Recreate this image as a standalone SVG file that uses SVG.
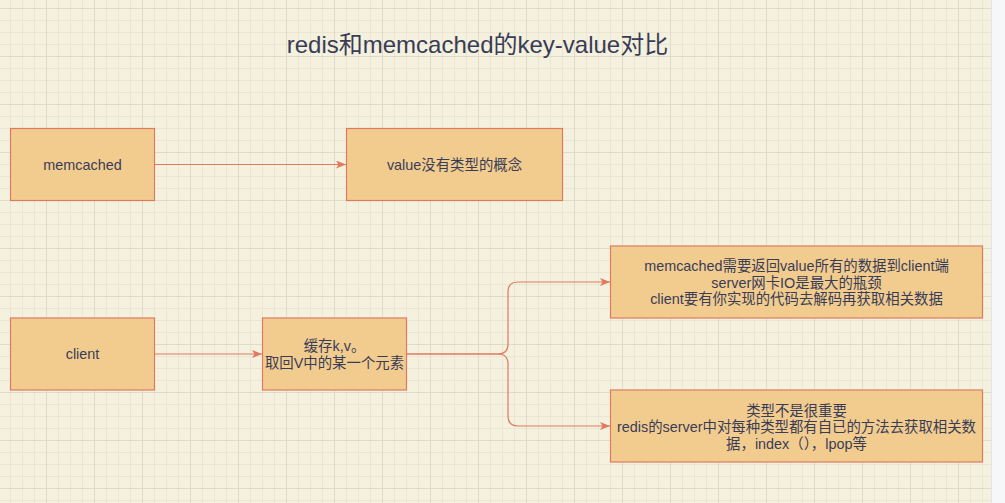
<svg xmlns="http://www.w3.org/2000/svg" width="1005" height="503" viewBox="0 0 1005 503">
  <defs>
    <pattern id="grid" x="-2" y="8" width="48" height="48" patternUnits="userSpaceOnUse">
      <path d="M12.5 0V48M24.5 0V48M36.5 0V48M0 12.5H48M0 24.5H48M0 36.5H48" stroke="#ebe6d3" stroke-width="1" fill="none"/>
      <path d="M0.5 0V48M0 0.5H48" stroke="#e0dbc6" stroke-width="1" fill="none"/>
    </pattern>
    <marker id="arr" viewBox="0 0 10 8" refX="10" refY="4" markerWidth="10" markerHeight="8" markerUnits="userSpaceOnUse" orient="auto">
      <path d="M0 0L10 4L0 8L2.5 4Z" fill="#e07a5f"/>
    </marker>
  </defs>
  <style>
    .box { fill: #f2cc8f; stroke: #e07a5f; stroke-width: 1.2; }
    .t { font-family: "Liberation Sans", "Noto Sans CJK SC", sans-serif; font-size: 14.4px; fill: #393c56; text-anchor: middle; }
    .title { font-family: "Liberation Sans", "Noto Sans CJK SC", sans-serif; font-size: 24px; fill: #393c56; text-anchor: middle; }
    .edge { fill: none; stroke: #e07a5f; stroke-width: 1.2; }
  </style>
  <rect width="1005" height="503" fill="#f4f1de"/>
  <rect width="991" height="503" fill="url(#grid)"/>
  <rect x="991" y="0" width="14" height="503" fill="#f6f7f9"/>
  <line x1="991.5" y1="0" x2="991.5" y2="503" stroke="#e2e4e8" stroke-width="1"/>

  <g id="title">
    <text class="title" x="477.5" y="53">redis和memcached的key-value对比</text>
  </g>

  <g id="edges">
    <path class="edge" d="M154.5 164.5H346" marker-end="url(#arr)"/>
    <path class="edge" d="M154.5 354H262" marker-end="url(#arr)"/>
    <path class="edge" d="M406.5 354H498Q508 354 508 344V292Q508 282 518 282H610" marker-end="url(#arr)"/>
    <path class="edge" d="M406.5 354H498Q508 354 508 364V416Q508 426 518 426H610" marker-end="url(#arr)"/>
  </g>

  <g id="memcached">
    <rect class="box" x="10.5" y="128.5" width="144" height="72"/>
    <text class="t" x="82.5" y="169.5">memcached</text>
  </g>
  <g id="value-no-type">
    <rect class="box" x="346.5" y="128.5" width="216" height="72"/>
    <text class="t" x="454.5" y="169.5">value没有类型的概念</text>
  </g>
  <g id="client">
    <rect class="box" x="10.5" y="318" width="144" height="72"/>
    <text class="t" x="82.5" y="359">client</text>
  </g>
  <g id="cache">
    <rect class="box" x="262.5" y="318" width="144" height="72"/>
    <text class="t" x="334.5" y="350.5">缓存k,v。</text>
    <text class="t" x="334.5" y="368">取回V中的某一个元素</text>
  </g>
  <g id="memcached-return">
    <rect class="box" x="610.5" y="246" width="372" height="72"/>
    <text class="t" x="796.5" y="271">memcached需要返回value所有的数据到client端</text>
    <text class="t" x="796.5" y="287.5">server网卡IO是最大的瓶颈</text>
    <text class="t" x="796.5" y="304">client要有你实现的代码去解码再获取相关数据</text>
  </g>
  <g id="redis-types">
    <rect class="box" x="610.5" y="390" width="372" height="72"/>
    <text class="t" x="796.5" y="415.5">类型不是很重要</text>
    <text class="t" x="796.5" y="432">redis的server中对每种类型都有自已的方法去获取相关数</text>
    <text class="t" x="796.5" y="448.5">据，index（），lpop等</text>
  </g>
</svg>
